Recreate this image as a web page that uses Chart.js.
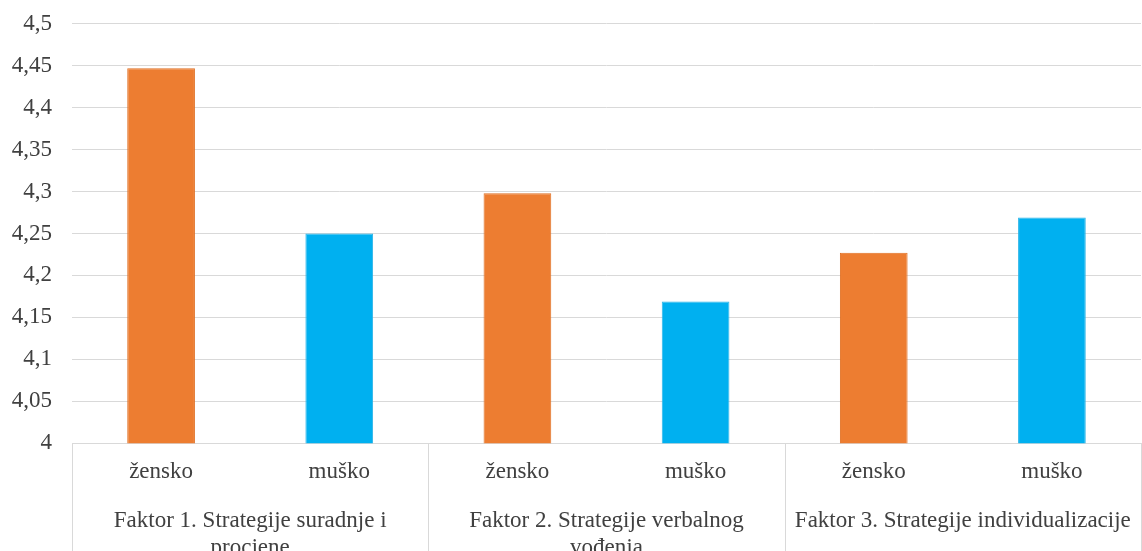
<!DOCTYPE html>
<html>
<head>
<meta charset="utf-8">
<script src="https://cdn.jsdelivr.net/npm/chart.js@4"></script>
<style>
  html, body { margin: 0; padding: 0; background: #fff; }
  #wrap { width: 1142px; height: 551px; overflow: hidden; position: relative; }
  #factorChart { position: absolute; left: 0; top: -10px; }
</style>
</head>
<body>
<div id="wrap"><canvas id="factorChart" width="1142" height="578"></canvas></div>
<script>
const categories = ['žensko', 'muško', 'žensko', 'muško', 'žensko', 'muško']
const groupLabels = [
    ['Faktor 1. Strategije suradnje i', 'procjene'],
    ['Faktor 2. Strategije verbalnog', 'vođenja'],
    'Faktor 3. Strategije individualizacije'
]
const values = [4.447, 4.25, 4.298, 4.169, 4.227, 4.269]
const barColors = ['#ED7D31', '#00B0F0', '#ED7D31', '#00B0F0', '#ED7D31', '#00B0F0']
const barBorders = ['#E06F22', '#2AB4E8', '#E06F22', '#2AB4E8', '#E06F22', '#2AB4E8']
const yTickLabels = ['4', '4,05', '4,1', '4,15', '4,2', '4,25', '4,3', '4,35', '4,4', '4,45', '4,5']

const font = { family: '"Liberation Serif", "Times New Roman", serif', size: 23 }
const gridColor = '#d9d9d9'

// keep long group labels from squeezing the plot
const noSidePadding = (scale) => { scale.paddingLeft = 0; scale.paddingRight = 0 }

// vertical separators between the factor groups, below the plot
const groupSeparators = {
    id: 'groupSeparators',
    afterDraw(chart) {
        const x = chart.scales.x
        const { ctx, chartArea } = chart
        const half = (x.getPixelForValue(1) - x.getPixelForValue(0)) / 2
        ctx.save()
        ctx.strokeStyle = gridColor
        ctx.lineWidth = 1
        for (let i = 0; i <= categories.length; i += 2) {
            const px = Math.round(x.getPixelForValue(i) - half) + 0.5
            ctx.beginPath()
            ctx.moveTo(px, chartArea.bottom)
            ctx.lineTo(px, chart.height)
            ctx.stroke()
        }
        ctx.restore()
    }
}

const ctx = document.getElementById('factorChart').getContext('2d')
new Chart(ctx, {
    type: 'bar',
    data: {
        labels: categories,
        datasets: [{
            data: values,
            backgroundColor: barColors,
            borderColor: barBorders,
            borderWidth: 1,
            barPercentage: 0.38,
            categoryPercentage: 1
        }]
    },
    options: {
        responsive: false,
        animation: false,
        layout: { padding: { top: 0, right: 1, left: 0 } },
        plugins: { legend: { display: false }, tooltip: { enabled: false } },
        scales: {
            y: {
                min: 4,
                max: 4.5,
                afterFit: (scale) => { scale.width = 72 },
                ticks: {
                    stepSize: 0.05,
                    color: '#404040',
                    font: font,
                    padding: 20,
                    callback: (value, i) => yTickLabels[i]
                },
                grid: { color: gridColor, drawTicks: false },
                border: { display: false }
            },
            x: {
                afterFit: noSidePadding,
                ticks: { color: '#404040', font: font, padding: 15, maxRotation: 0, autoSkip: false },
                grid: { display: false, drawTicks: false },
                border: { color: gridColor }
            },
            x2: {
                type: 'category',
                position: 'bottom',
                labels: groupLabels,
                offset: true,
                afterFit: noSidePadding,
                ticks: { color: '#404040', font: font, padding: 6, maxRotation: 0, autoSkip: false },
                grid: { display: false, drawTicks: false },
                border: { display: false }
            }
        }
    },
    plugins: [groupSeparators]
})
</script>
</body>
</html>
